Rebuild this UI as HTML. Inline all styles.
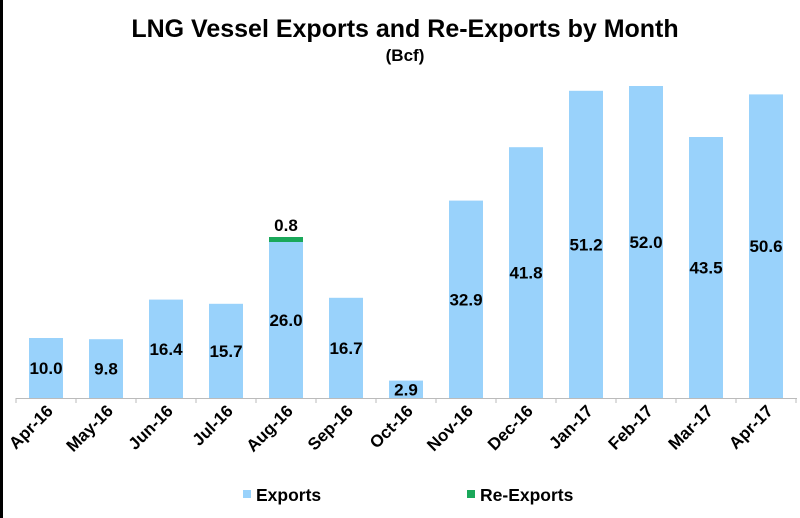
<!DOCTYPE html>
<html><head><meta charset="utf-8"><style>
html,body{margin:0;padding:0;background:#fff}
svg{display:block;font-family:"Liberation Sans",Arial,sans-serif}
</style></head><body>
<svg width="800" height="518" viewBox="0 0 800 518">
<rect x="0" y="0" width="800" height="518" fill="#fff"/>
<rect x="0" y="0" width="3" height="518" fill="#000"/>
<text x="405" y="37" text-anchor="middle" font-size="25" font-weight="bold">LNG Vessel Exports and Re-Exports by Month</text>
<text x="405" y="61" text-anchor="middle" font-size="17" font-weight="bold">(Bcf)</text>
<g id="bars"></g>
<line x1="16" y1="398.5" x2="797" y2="398.5" stroke="#bbb" stroke-width="1"/>
<g id="ticks" stroke="#bbb"></g>
<g id="labels" font-size="17" font-weight="bold"></g>
<rect x="243" y="490" width="8" height="8" fill="#99d2fb"/>
<text x="256" y="501" font-size="17.5" font-weight="bold">Exports</text>
<rect x="467" y="490" width="8" height="8" fill="#1aa85a"/>
<text x="480" y="501" font-size="17.5" font-weight="bold">Re-Exports</text>
<script>
var v=[10.0,9.8,16.4,15.7,26.0,16.7,2.9,32.9,41.8,51.2,52.0,43.5,50.6];
var m=["Apr-16","May-16","Jun-16","Jul-16","Aug-16","Sep-16","Oct-16","Nov-16","Dec-16","Jan-17","Feb-17","Mar-17","Apr-17"];
var ns="http://www.w3.org/2000/svg",b=document.getElementById("bars"),t=document.getElementById("ticks"),l=document.getElementById("labels");
function el(p,n,a,tx){var e=document.createElementNS(ns,n);for(var k in a)e.setAttribute(k,a[k]);if(tx)e.textContent=tx;p.appendChild(e);return e;}
for(var i=0;i<13;i++){var c=46+60*i,h=v[i]*6,y=398-h;
el(b,"rect",{x:c-17,y:y,width:34,height:h,fill:"#99d2fb"});
el(b,"text",{x:c,y:y+h/2+6,"text-anchor":"middle","font-size":"17","font-weight":"bold"},v[i].toFixed(1));
el(l,"text",{x:0,y:0,"text-anchor":"end",transform:"translate("+(c+8)+",412) rotate(-45)"},m[i]);}
for(var i=0;i<14;i++){var x=16+60*i;el(t,"line",{x1:x,y1:398,x2:x,y2:403});}
el(b,"rect",{x:269,y:237,width:34,height:5,fill:"#1aa85a"});
el(b,"text",{x:286,y:231,"text-anchor":"middle","font-size":"17","font-weight":"bold"},"0.8");
</script>
</svg>
</body></html>
